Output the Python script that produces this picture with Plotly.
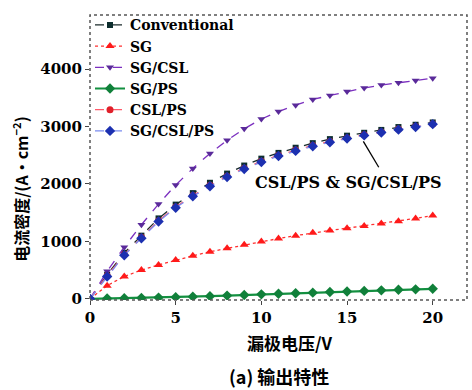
import plotly.graph_objects as go

voltage = list(range(0, 21))

conventional = [0, 420, 800, 1100, 1400, 1640, 1840, 2020, 2180, 2320, 2440,
                2540, 2630, 2710, 2780, 2840, 2890, 2940, 2990, 3030, 3070]
sg = [0, 230, 390, 500, 590, 675, 750, 820, 880, 940, 1000,
      1050, 1100, 1150, 1190, 1230, 1270, 1310, 1350, 1400, 1450]
sg_csl = [0, 480, 900, 1290, 1650, 1980, 2270, 2530, 2760, 2960, 3130,
          3260, 3370, 3470, 3540, 3610, 3670, 3720, 3760, 3800, 3840]
sg_ps = [0, 5, 10, 15, 22, 30, 38, 47, 57, 67, 78,
         88, 98, 108, 118, 128, 138, 148, 158, 165, 175]
csl_ps = [0, 400, 770, 1070, 1360, 1600, 1800, 1975, 2135, 2275, 2395,
          2500, 2590, 2670, 2740, 2800, 2855, 2905, 2955, 3000, 3045]
sg_csl_ps = [0, 390, 760, 1055, 1345, 1585, 1785, 1960, 2120, 2260, 2380,
             2485, 2575, 2655, 2725, 2790, 2845, 2895, 2945, 2990, 3040]

series_names = ["Conventional", "SG", "SG/CSL", "SG/PS", "CSL/PS", "SG/CSL/PS"]
series_values = [conventional, sg, sg_csl, sg_ps, csl_ps, sg_csl_ps]

x_ticks = [0, 5, 10, 15, 20]
y_ticks = [0, 1000, 2000, 3000, 4000]

styles = [
    dict(line=dict(color="#1b2b2b", width=1.3, dash="dash"), marker=dict(symbol="square", size=6, color="#0d2e2e")),
    dict(line=dict(color="#ff3030", width=1.3, dash="dot"), marker=dict(symbol="triangle-up", size=8, color="#ff1a1a")),
    dict(line=dict(color="#7b2fbf", width=1.3, dash="dash"), marker=dict(symbol="triangle-down", size=7, color="#5a2a9a")),
    dict(line=dict(color="#139040", width=2.2), marker=dict(symbol="diamond", size=8, color="#10803a")),
    dict(line=dict(color="#ff5a6a", width=1.3, dash="dash"), marker=dict(symbol="circle", size=7, color="#e0202a")),
    dict(line=dict(color="#7a8cf0", width=1.3, dash="dash"), marker=dict(symbol="diamond", size=8, color="#1c30b0")),
]

serif = "DejaVu Serif"
cjk = "Noto Sans CJK SC"

fig = go.Figure()
for name, vals, st in zip(series_names, series_values, styles):
    fig.add_trace(go.Scatter(x=voltage, y=vals, mode="lines+markers", name=name,
                             line=st["line"], marker=st["marker"]))

fig.update_layout(
    width=472, height=390,
    margin=dict(l=90, r=5, t=15, b=90),
    paper_bgcolor="white", plot_bgcolor="white",
    font=dict(family=serif, size=14, color="black"),
    showlegend=True,
    legend=dict(x=0.0, y=1.02, xanchor="left", yanchor="top",
                bgcolor="rgba(0,0,0,0)", borderwidth=0,
                font=dict(family=serif, size=14, color="black", weight="bold"),
                tracegroupgap=0, itemwidth=30),
    xaxis=dict(range=[0, 22], tickvals=x_ticks, ticks="outside", ticklen=4,
               showgrid=False, zeroline=False, showline=False,
               tickfont=dict(family=serif, size=15, weight="bold")),
    yaxis=dict(range=[-20, 4940], tickvals=y_ticks, ticks="outside", ticklen=4,
               showgrid=False, zeroline=False, showline=False,
               tickfont=dict(family=serif, size=15, weight="bold")),
    shapes=[
        dict(type="rect", xref="paper", yref="paper", x0=0, y0=0, x1=1, y1=1,
             line=dict(color="#555555", width=1.5, dash="dot")),
        dict(type="line", xref="x", yref="y", x0=15.95, y0=2740, x1=16.85, y1=2290,
             line=dict(color="black", width=1.3)),
    ],
    annotations=[
        dict(x=15.1, y=2030, xref="x", yref="y", text="CSL/PS &amp; SG/CSL/PS", showarrow=False,
             font=dict(family=serif, size=16, weight="bold")),
        dict(x=-0.183, y=0.39, xref="paper", yref="paper", textangle=-90, showarrow=False,
             xanchor="center", yanchor="middle",
             text="电流密度/(A·cm<sup>−2</sup>)", font=dict(family=cjk, size=16, weight="bold")),
        dict(x=0.53, y=-0.148, xref="paper", yref="paper", yanchor="middle", showarrow=False,
             text="漏极电压/V", font=dict(family=cjk, size=17, weight="bold")),
        dict(x=0.5, y=-0.267, xref="paper", yref="paper", yanchor="middle", showarrow=False,
             text="(a) 输出特性", font=dict(family=cjk, size=18, weight="bold")),
    ],
)

fig.write_html("out.html")
